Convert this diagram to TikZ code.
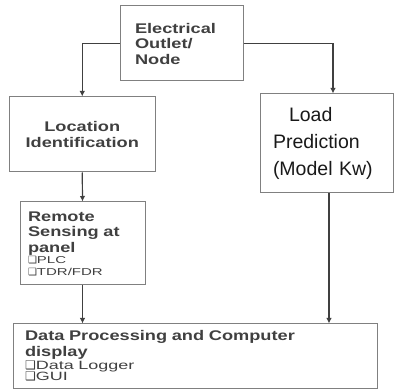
\documentclass[tikz,border=0pt]{standalone}
\usepackage{fontspec}
\setmainfont{Liberation Sans}
\newfontfamily\widefont[FakeStretch=1.3]{Liberation Sans}
\newfontfamily\itemfont[FakeStretch=1.5]{Liberation Sans}
\newfontfamily\symfont{DejaVu Sans}
\usetikzlibrary{positioning, arrows.meta, calc}

\newcommand{\boxitem}[1]{{\symfont\char"2751}#1}

\tikzset{
  box/.style={draw=black!50, line width=1pt, rectangle, inner ysep=0pt, text=black!75},
  boldtext/.style={font=\widefont\bfseries\fontsize{14}{15.5}\selectfont},
  arrow/.style={-{Latex[length=5.5pt,width=5.5pt]}, draw=black!75, line width=1.2pt},
}

\begin{document}
\begin{tikzpicture}[x=1pt, y=-1pt]
        \useasboundingbox (0,0) rectangle (394,390);

        % Top box
        \node[box, boldtext, minimum width=123pt, minimum height=75pt, inner xsep=15pt,
              text width=93pt, align=left] (elec) at (181.5,43.5)
              {Electrical\\Outlet/\\Node};

        % Left column
        \node[box, boldtext, minimum width=146.5pt, minimum height=75pt, inner xsep=10pt,
              text width=126.5pt, align=center] (loc) at (82.25,134.5)
              {Location\\Identification};

        \node[box, boldtext, minimum width=125pt, minimum height=83pt, inner xsep=8pt,
              text width=109pt, align=left] (remote) at (82.5,243.5)
              {Remote\\Sensing at\\panel\par
               {\itemfont\mdseries\fontsize{10}{11.5}\selectfont \boxitem{PLC}\\\boxitem{TDR/FDR}\par}};

        % Right column
        \node[box, minimum width=133pt, minimum height=99pt, inner xsep=13pt,
              text width=107pt, align=left, text=black!90,
              font=\fontsize{19.5}{27}\selectfont] (load) at (326.5,143.5)
              {\hspace*{16pt}Load\\Prediction\\(Model Kw)};

        % Bottom box
        \node[box, boldtext, minimum width=364pt, minimum height=64pt, inner xsep=12pt,
              text width=340pt, align=left] (data) at (195,356)
              {Data Processing and Computer\\display\par
               {\itemfont\mdseries\fontsize{12}{11.5}\selectfont \boxitem{Data Logger}\\\boxitem{GUI}\par}};

        % Arrow end points
        \coordinate (loadin) at ([xshift=6.5pt]load.north);
        \coordinate (loadout) at ([xshift=2.5pt]load.south);

        % Connectors
        \draw[arrow] (elec.west) -| (loc.north);
        \draw[arrow] (elec.east) -| (loadin);
        \draw[arrow] (loc.south) -- (remote.north);
        \draw[arrow] (remote.south) -- (remote.south |- data.north);
        \draw[arrow] (loadout) -- (loadout |- data.north);
    \end{tikzpicture}
\end{document}
